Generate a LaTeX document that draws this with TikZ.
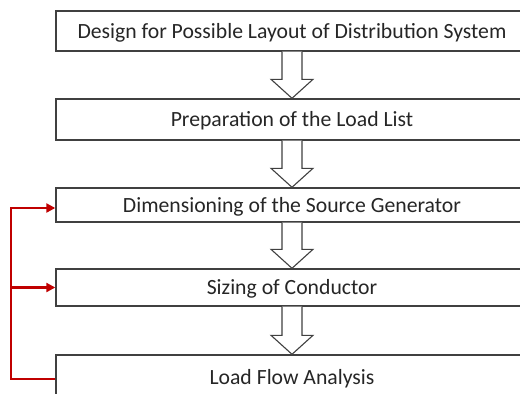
\documentclass[tikz,border=0pt]{standalone}
\usepackage{fontspec}
\setmainfont{Carlito}
\usetikzlibrary{calc,arrows.meta}
\definecolor{boxgray}{HTML}{404040}
\definecolor{txtgray}{HTML}{262626}
\definecolor{fbred}{HTML}{C00000}
\tikzset{
  stepbox/.style={draw=boxgray, line width=1.4pt, fill=white, minimum width=472pt, inner sep=0pt,
    text=txtgray, font=\fontsize{21.7}{24}\selectfont, anchor=center,
    text height=17.5pt, text depth=3pt},
  blockarr/.style={draw=boxgray, line width=1.1pt, fill=white, line join=miter},
  fb/.style={draw=fbred, line width=2.2pt},
  fbtip/.style={-{Triangle[length=9pt,width=9pt]}}
}
\newcommand\blockarrow[2]{%
  \draw[blockarr] ($(#1.south)+(-10,0)$) -- ($(#2.north)+(-10,-19)$) -- ($(#2.north)+(-21,-19)$)
    -- (#2.north) -- ($(#2.north)+(21,-19)$) -- ($(#2.north)+(10,-19)$) -- ($(#1.south)+(10,0)$);}
\begin{document}
\begin{tikzpicture}[x=1pt,y=-1pt]
\clip (0,0) rectangle (520,394);
\fill[white] (0,0) rectangle (520,394);
\node[stepbox, minimum height=40pt] (b1) at (292,31) {Design for Possible Layout of Distribution System};
\node[stepbox, minimum height=41pt] (b2) at (292,119.5) {Preparation of the Load List};
\node[stepbox, minimum height=34pt] (b3) at (292,205) {Dimensioning of the Source Generator};
\node[stepbox, minimum height=37pt] (b4) at (292,287.5) {Sizing of Conductor};
\node[stepbox, minimum height=44pt] (b5) at (292,377) {Load Flow Analysis};
\blockarrow{b1}{b2}
\blockarrow{b2}{b3}
\blockarrow{b3}{b4}
\blockarrow{b4}{b5}
\coordinate (fbx) at (11,300);
\draw[fb, fbtip] ($(b5.west)+(0,2)$) -| (fbx) |- ($(b3.west)+(0,3)$);
\draw[fb, fbtip] (fbx |- b4.west) -- (b4.west);
\end{tikzpicture}
\end{document}
